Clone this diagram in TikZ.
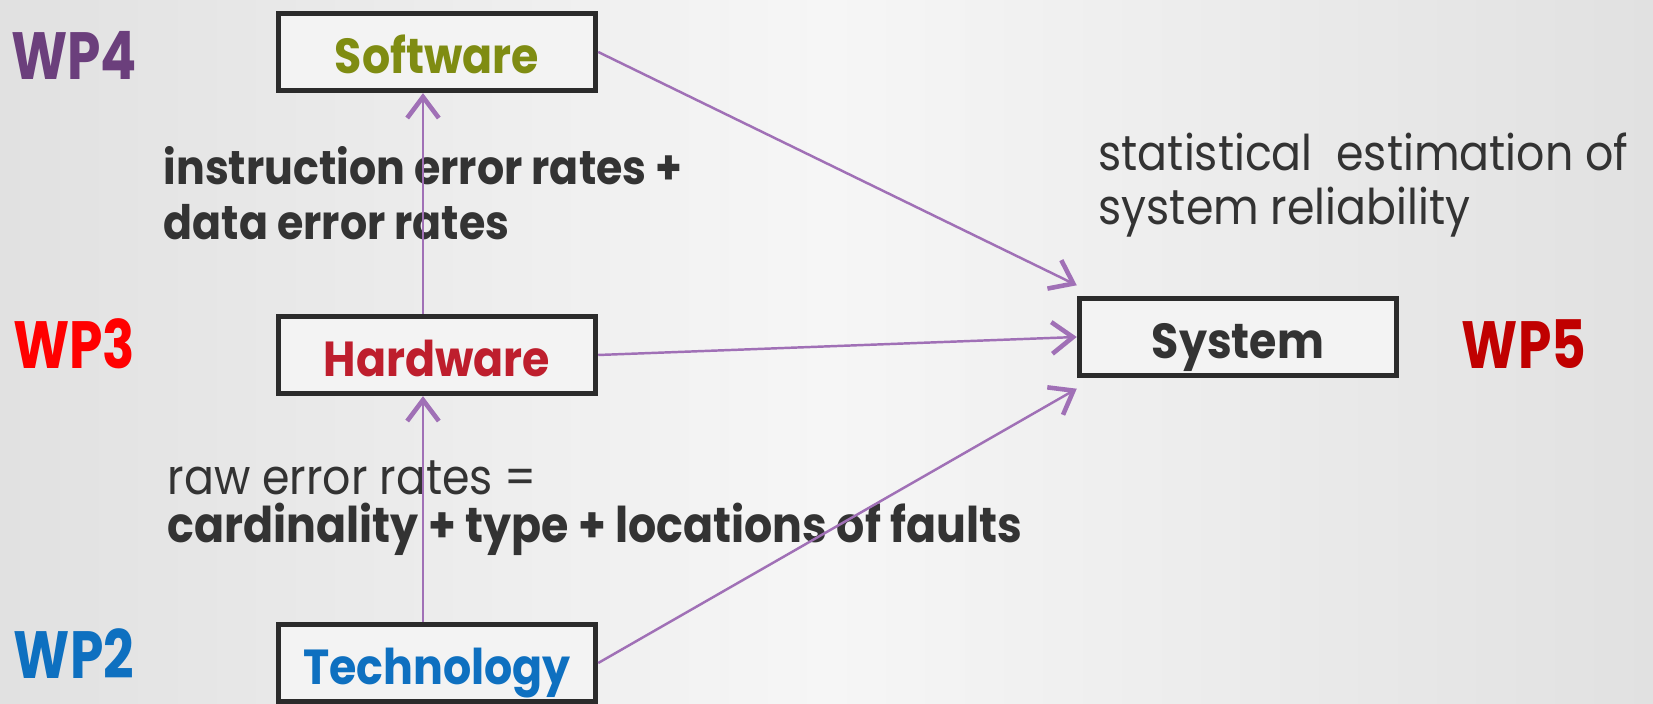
\documentclass[tikz,border=0pt]{standalone}
\usepackage{fontspec}
\setmainfont{Poppins}[FakeStretch=0.9]
\newfontfamily\wpfont{Poppins}[FakeStretch=0.8]
\usepackage{xcolor}
\usepackage{tikz}
\usetikzlibrary{arrows.meta}

\definecolor{bgside}{HTML}{E1E1E1}
\definecolor{bgmid}{HTML}{F6F6F6}
\definecolor{boxline}{HTML}{2B2B2B}
\definecolor{boxfill}{HTML}{F3F3F3}
\definecolor{linkpurple}{HTML}{A070B6}
\definecolor{notegray}{HTML}{333333}
\definecolor{swgreen}{HTML}{7F8C12}
\definecolor{hwred}{HTML}{BE1E2D}
\definecolor{techblue}{HTML}{0E70C0}
\definecolor{wpfour}{HTML}{6B3F7C}
\definecolor{wpfive}{HTML}{C00000}

\begin{document}
\begin{tikzpicture}[x=0.01cm,y=-0.01cm,
  box/.style={draw=boxline,line width=1.5pt,fill=boxfill,minimum width=3.17cm,
    minimum height=0.77cm,text height=12pt,text depth=0pt,
    font=\bfseries\fontsize{14}{17}\selectfont},
  link/.style={draw=linkpurple,line width=0.7pt,
    -{Straight Barb[length=6pt,width=9pt,line width=1.3pt]}},
  wp/.style={font=\wpfont\bfseries\fontsize{19}{23}\selectfont},
  note/.style={anchor=west,align=left,inner sep=0pt,text=notegray,
    font=\fontsize{14}{15.6}\selectfont}]

\useasboundingbox (0,0) rectangle (1653,704);
\shade[left color=bgside,right color=bgside,middle color=bgmid] (0,0) rectangle (1653,704);

\node[box,text=swgreen] (sw) at (437,52) {Software};
\node[box,text=hwred] (hw) at (437,355) {Hardware};
\node[box,text=techblue] (tech) at (437,663) {Technology};
\node[box,text=notegray] (sys) at (1238,337) {System};

\node[wp,text=wpfour] (wp4) at (74,55) {WP4};
\node[wp,text=red] (wp3) at (74,344) {WP3};
\node[wp,text=techblue] (wp2) at (74,654) {WP2};
\node[wp,text=wpfive] (wp5) at (1524,344) {WP5};

\node[note,font=\bfseries\fontsize{13.5}{15.6}\selectfont] (swrates) at (163,193)
  {instruction error rates +\\data error rates};
\node[note] (rawrates) at (167,478) {raw error rates =};
\node[note,font=\bfseries\fontsize{14}{15.6}\selectfont] (faults) at (167,529)
  {cardinality + type + locations of faults};
\node[note] (estim) at (1098,185) {statistical~ estimation of\\system reliability};

\coordinate (up) at (423,0);
\draw[link] (hw.north -| up) -- (sw.south -| up);
\draw[link] (tech.north -| up) -- (hw.south -| up);
\draw[link] (sw.east) -- ([yshift=3pt]sys.north west);
\draw[link] (hw.east) -- (sys.west);
\draw[link] (tech.east) -- ([yshift=-3pt]sys.south west);

\end{tikzpicture}
\end{document}
